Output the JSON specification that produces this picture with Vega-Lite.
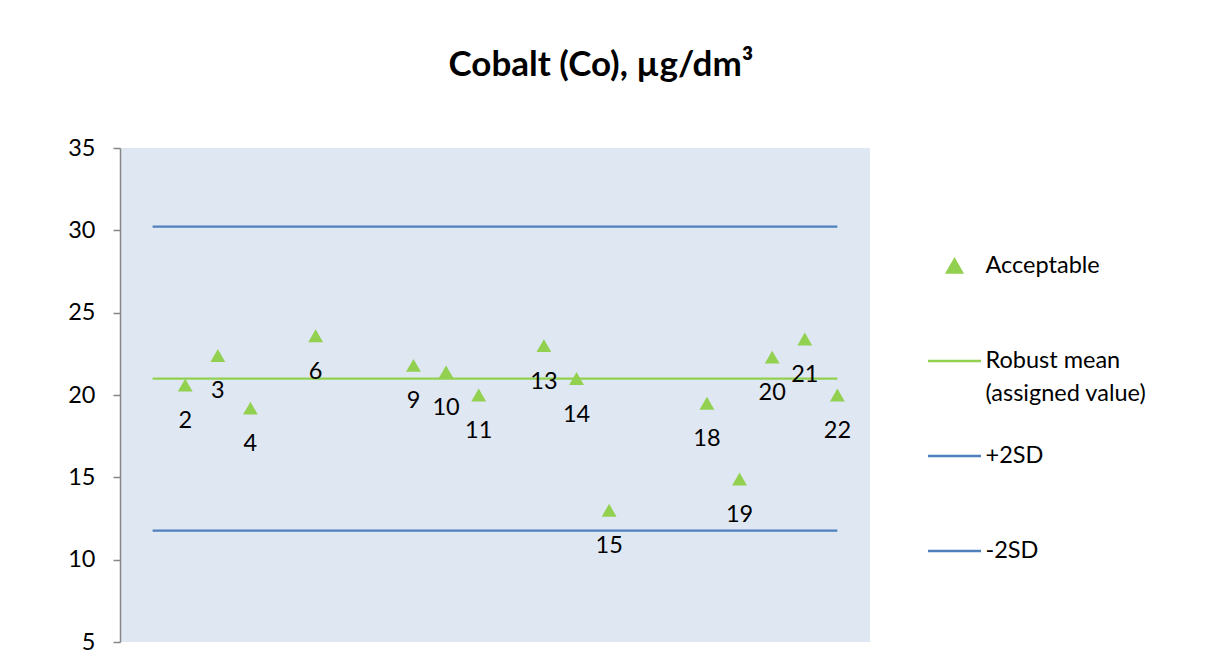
{
  "$schema": "https://vega.github.io/schema/vega-lite/v6.json",
  "width": 750,
  "height": 494,
  "autosize": {"type": "none"},
  "padding": {"left": 120, "top": 148, "right": 335, "bottom": 10},
  "background": "white",
  "config": {
    "font": "Lato",
    "view": {"fill": "#DFE7F2", "stroke": null}
  },
  "title": {
    "text": "Cobalt (Co), µg/dm³",
    "fontSize": 35,
    "fontWeight": "bold",
    "color": "black",
    "anchor": "middle",
    "frame": "group",
    "dx": 106,
    "baseline": "alphabetic",
    "offset": 25
  },
  "datasets": {
    "results": [
      {"lab": 2, "value": 20.6, "series": "Acceptable"},
      {"lab": 3, "value": 22.4, "series": "Acceptable"},
      {"lab": 4, "value": 19.2, "series": "Acceptable"},
      {"lab": 6, "value": 23.6, "series": "Acceptable"},
      {"lab": 9, "value": 21.8, "series": "Acceptable"},
      {"lab": 10, "value": 21.4, "series": "Acceptable"},
      {"lab": 11, "value": 20.0, "series": "Acceptable"},
      {"lab": 13, "value": 23.0, "series": "Acceptable"},
      {"lab": 14, "value": 21.0, "series": "Acceptable"},
      {"lab": 15, "value": 13.0, "series": "Acceptable"},
      {"lab": 18, "value": 19.5, "series": "Acceptable"},
      {"lab": 19, "value": 14.9, "series": "Acceptable"},
      {"lab": 20, "value": 22.3, "series": "Acceptable"},
      {"lab": 21, "value": 23.4, "series": "Acceptable"},
      {"lab": 22, "value": 20.0, "series": "Acceptable"}
    ],
    "limits": [
      {"lab": 1, "value": 21.0, "series": "Robust mean (assigned value)"},
      {"lab": 22, "value": 21.0, "series": "Robust mean (assigned value)"},
      {"lab": 1, "value": 30.22, "series": "+2SD"},
      {"lab": 22, "value": 30.22, "series": "+2SD"},
      {"lab": 1, "value": 11.76, "series": "-2SD"},
      {"lab": 22, "value": 11.76, "series": "-2SD"}
    ]
  },
  "layer": [
    {
      "data": {"name": "limits"},
      "mark": {"type": "line", "strokeWidth": 2.25},
      "encoding": {
        "x": {"field": "lab", "type": "quantitative", "scale": {"domain": [0, 23], "nice": false, "zero": false}, "axis": null},
        "y": {
          "field": "value",
          "type": "quantitative",
          "scale": {"domain": [5, 35], "nice": false, "zero": false},
          "axis": {
            "title": null,
            "values": [5, 10, 15, 20, 25, 30, 35],
            "grid": false,
            "domainColor": "#868686",
            "domainWidth": 1.5,
            "tickColor": "#868686",
            "tickWidth": 1.5,
            "tickSize": 7,
            "labelFontSize": 23.5,
            "labelColor": "black",
            "labelPadding": 18
          }
        },
        "color": {
          "field": "series",
          "type": "nominal",
          "scale": {
            "domain": ["Acceptable", "Robust mean (assigned value)", "+2SD", "-2SD"],
            "range": ["#92D050", "#92D050", "#4F81BD", "#4F81BD"]
          },
          "legend": {
            "orient": "none",
            "legendX": 806.5,
            "legendY": 90,
            "title": null,
            "symbolType": "stroke",
            "symbolSize": 2809,
            "symbolStrokeWidth": 2.5,
            "labelFontSize": 23.5,
            "labelColor": "black",
            "labelOffset": 3,
            "labelLimit": 400,
            "labelBaseline": "top",
            "gridAlign": "all",
            "rowPadding": 22,
            "labelExpr": "datum.label == 'Robust mean (assigned value)' ? ['Robust mean', '(assigned value)'] : datum.label",
            "encode": {
              "symbols": {
                "update": {
                  "shape": {"signal": "datum.value == 'Acceptable' ? 'triangle-up' : 'stroke'"},
                  "size": {"signal": "datum.value == 'Acceptable' ? 220 : 2809"},
                  "fill": {"signal": "datum.value == 'Acceptable' ? '#92D050' : 'transparent'"},
                  "stroke": {"signal": "datum.value == 'Acceptable' ? 'transparent' : scale('color', datum.value)"},
                  "strokeWidth": {"value": 2.5},
                  "opacity": {"value": 1}
                }
              },
              "labels": {
                "update": {
                  "dy": {"value": -12},
                  "lineHeight": {"value": 33}
                }
              }
            }
          }
        },
        "detail": {"field": "series", "type": "nominal"}
      }
    },
    {
      "data": {"name": "results"},
      "mark": {"type": "point", "shape": "triangle-up", "filled": true, "size": 220, "opacity": 1},
      "encoding": {
        "x": {"field": "lab", "type": "quantitative"},
        "y": {"field": "value", "type": "quantitative"},
        "color": {"field": "series", "type": "nominal"}
      }
    },
    {
      "data": {"name": "results"},
      "mark": {"type": "text", "dy": 36, "fontSize": 23.5, "color": "black", "baseline": "middle", "align": "center"},
      "encoding": {
        "x": {"field": "lab", "type": "quantitative"},
        "y": {"field": "value", "type": "quantitative"},
        "text": {"field": "lab", "type": "nominal"}
      }
    }
  ]
}
